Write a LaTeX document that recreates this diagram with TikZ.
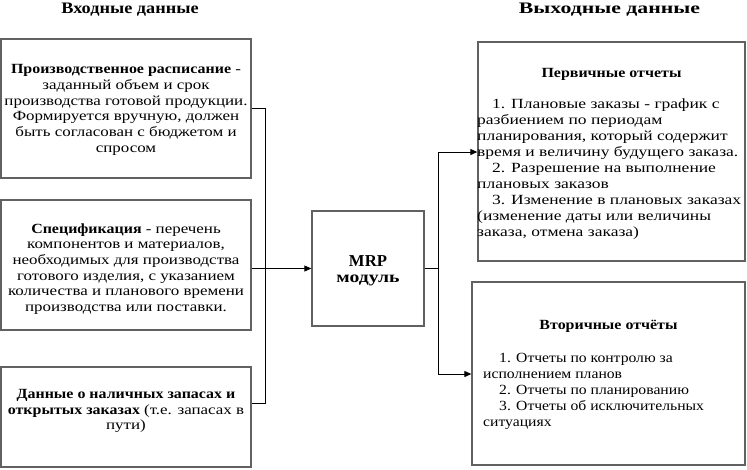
\documentclass[tikz,border=0pt]{standalone}
\usepackage{fontspec}
\setmainfont{Liberation Serif}
\newfontfamily\fA{Liberation Serif}[FakeStretch=1.21]
\newfontfamily\fB{Liberation Serif}[FakeStretch=1.25]
\newfontfamily\fC{Liberation Serif}[FakeStretch=1.12]
\newfontfamily\fH{Liberation Serif}[FakeStretch=1.14]
\newfontfamily\fR{Liberation Serif}[FakeStretch=1.36]
\newfontfamily\fM{Liberation Serif}[FakeStretch=1.23]
\newcommand{\bh}[1]{{\fH\bfseries #1}}
\usetikzlibrary{arrows.meta}
\begin{document}
\begin{tikzpicture}[x=1pt,y=-1pt,
  box/.style={draw=black!62, line width=1.3pt, inner sep=0pt, fill=white},
  txt/.style={font=\fontsize{14}{15.7}\selectfont\fA, align=center, inner sep=0pt},
  ltxt/.style={align=left, inner sep=0pt, anchor=west},
  head/.style={inner sep=0pt},
  conn/.style={draw=black, line width=0.9pt},
  arr/.style={conn, -{Triangle[length=7pt,width=6pt]}}]
\useasboundingbox (0,0) rectangle (747,469);
\fill[white] (0,0) rectangle (747,469);

\node[head, font=\fontsize{16}{18}\selectfont\fH\bfseries] (hin) at (130,9.5) {Входные данные};
\node[head, font=\fontsize{16}{18}\selectfont\fR\bfseries] (hout) at (609.5,9.5) {Выходные данные};

\node[box, minimum width=250pt, minimum height=139pt] (b1) at (126,108.5) {};
\node[box, minimum width=250pt, minimum height=130pt] (b2) at (126,265) {};
\node[box, minimum width=250pt, minimum height=100pt] (b3) at (126,417) {};
\node[box, minimum width=112pt, minimum height=115pt] (mrp) at (368,268.5) {};
\node[box, minimum width=267pt, minimum height=219pt] (b4) at (611.5,151.5) {};
\node[box, minimum width=273pt, minimum height=183pt] (b5) at (608.5,373.5) {};

\node[txt] (t1) at (126,110) {\bh{Производственное расписание} -\\ заданный объем и срок\\ производства готовой продукции.\\ Формируется вручную, должен\\ быть согласован с бюджетом и\\ спросом};
\node[txt] (t2) at (126,269) {\bh{Спецификация} - перечень\\ компонентов и материалов,\\ необходимых для производства\\ готового изделия, с указанием\\ количества и планового времени\\ производства или поставки.};
\node[txt] (t3) at (126,411) {\bh{Данные о наличных запасах и}\\ \bh{открытых заказах} (т.е. запасах в\\ пути)};

\node[inner sep=0pt, align=center] (tm) at (368,271) {{\fontsize{16.7}{16.7}\selectfont\bfseries MRP}\\[4pt]{\fontsize{16}{16}\selectfont\fM\bfseries модуль}};

\node[head, font=\fontsize{14}{16}\selectfont\fH\bfseries] (t4h) at (611.5,74) {Первичные отчеты};
\node[ltxt, font=\fontsize{14}{16}\selectfont\fB] (t4) at (477,169) {\hspace*{15pt}1. Плановые заказы - график с\\ разбиением по периодам\\ планирования, который содержит\\ время и величину будущего заказа.\\ \hspace*{15pt}2. Разрешение на выполнение\\ плановых заказов\\ \hspace*{15pt}3. Изменение в плановых заказах\\ (изменение даты или величины\\ заказа, отмена заказа)};

\node[head, font=\fontsize{14}{16}\selectfont\fH\bfseries] (t5h) at (608.5,326) {Вторичные отчёты};
\node[ltxt, font=\fontsize{14}{16}\selectfont\fC] (t5) at (483,391.5) {\hspace*{16pt}1. Отчеты по контролю за\\ исполнением планов\\ \hspace*{16pt}2. Отчеты по планированию\\ \hspace*{16pt}3. Отчеты об исключительных\\ ситуациях};

\coordinate (jl1) at (265,108);
\coordinate (jl3) at (265,403);
\coordinate (jl) at (265,268.5);
\coordinate (jr) at (438,268.5);
\coordinate (jr4) at (438,152);
\coordinate (jr5) at (438,374);

\draw[conn] (b1.east |- jl1) -- (jl1) -- (jl3) -- (b3.east |- jl3);
\draw[conn] (b2.east |- jl) -- (jl);
\draw[arr] (jl) -- (mrp.west);
\draw[conn] (mrp.east) -- (jr);
\draw[conn] (jr4) -- (jr5);
\draw[arr] (jr4) -- (b4.west |- jr4);
\draw[arr] (jr5) -- (b5.west |- jr5);
\end{tikzpicture}
\end{document}
